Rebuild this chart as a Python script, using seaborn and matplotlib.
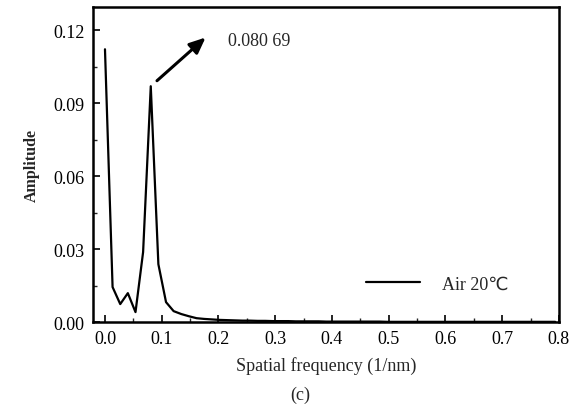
import numpy as np
import pandas as pd
import seaborn as sns
import matplotlib.pyplot as plt
from matplotlib.ticker import MultipleLocator, FormatStrFormatter

# spectrum data
freq = [0.0000, 0.0134, 0.0269, 0.0403, 0.0538, 0.0672, 0.0807, 0.0941, 0.1076,
        0.1210, 0.1345, 0.1479, 0.1614, 0.1748, 0.1883, 0.2017, 0.2152, 0.2286,
        0.2421, 0.2555, 0.2690, 0.2824, 0.2959, 0.3093, 0.3228, 0.3362, 0.3497,
        0.3631, 0.3766, 0.3900, 0.4035, 0.4169, 0.4304, 0.4438, 0.4573, 0.4707,
        0.4842, 0.4976, 0.5111, 0.5245, 0.5380, 0.5514, 0.5649, 0.5783, 0.5918,
        0.6052, 0.6187, 0.6321, 0.6456, 0.6590, 0.6725, 0.6859, 0.6994, 0.7128,
        0.7263, 0.7397, 0.7532, 0.7666, 0.7801, 0.7935]
amp = [0.1122, 0.0144, 0.0074, 0.0119, 0.0041, 0.0288, 0.0970, 0.0238, 0.0082,
       0.0045, 0.0033, 0.0024, 0.0016, 0.0013, 0.0011, 0.0009, 0.0008, 0.0007,
       0.0006, 0.0006, 0.0005, 0.0005, 0.0004, 0.0004, 0.0004, 0.0003, 0.0003,
       0.0003, 0.0003, 0.0002, 0.0002, 0.0002, 0.0002, 0.0002, 0.0002, 0.0002,
       0.0002, 0.0001, 0.0001, 0.0001, 0.0001, 0.0001, 0.0001, 0.0001, 0.0001,
       0.0001, 0.0001, 0.0001, 0.0001, 0.0001, 0.0001, 0.0001, 0.0001, 0.0001,
       0.0001, 0.0001, 0.0001, 0.0001, 0.0001, 0.0001]
series_label = "Air 20\u2103"
peak_label = "0.080 69"

sns.set_theme(style="ticks")
plt.rcParams['font.family'] = ['Liberation Serif', 'DejaVu Sans']

df = pd.DataFrame({"freq": freq, "amp": amp, "label": series_label})

fig = plt.figure(figsize=(5.78, 4.10), dpi=100)
ax = fig.add_axes([0.161, 0.212, 0.806, 0.768])

sns.lineplot(data=df, x="freq", y="amp", hue="label", palette=["black"],
             linewidth=1.6, ax=ax)

ax.set_xlim(-0.021, 0.8)
ax.set_ylim(0, 0.1295)
ax.xaxis.set_major_locator(MultipleLocator(0.1))
ax.xaxis.set_minor_locator(MultipleLocator(0.05))
ax.yaxis.set_major_locator(MultipleLocator(0.03))
ax.yaxis.set_minor_locator(MultipleLocator(0.015))
ax.xaxis.set_major_formatter(FormatStrFormatter('%.1f'))
ax.yaxis.set_major_formatter(FormatStrFormatter('%.2f'))
ax.tick_params(which='major', direction='in', length=5, width=1.2,
               labelsize=13, colors='black', pad=6)
ax.tick_params(which='minor', direction='in', length=3, width=1.0)
for s in ax.spines.values():
    s.set_linewidth(1.8)
    s.set_color('black')

ax.set_xlabel("Spatial frequency (1/nm)", fontsize=13, labelpad=6)
ax.set_ylabel("Amplitude", fontsize=11.5, fontweight='bold', labelpad=10)

ax.annotate("", xy=(0.181, 0.1178), xytext=(0.088, 0.0985),
            arrowprops=dict(arrowstyle='-|>,head_length=0.8,head_width=0.35',
                            color='black', lw=2.2))
ax.text(0.217, 0.1156, peak_label, fontsize=13, va='center', ha='left')

leg = ax.legend(loc='lower left', bbox_to_anchor=(0.551, 0.042), frameon=False,
                fontsize=13, handlelength=3.0, handletextpad=1.2)

fig.text(0.52, 0.035, "(c)", fontsize=13, ha='center', va='center')

fig.savefig("out.png", dpi=100)
